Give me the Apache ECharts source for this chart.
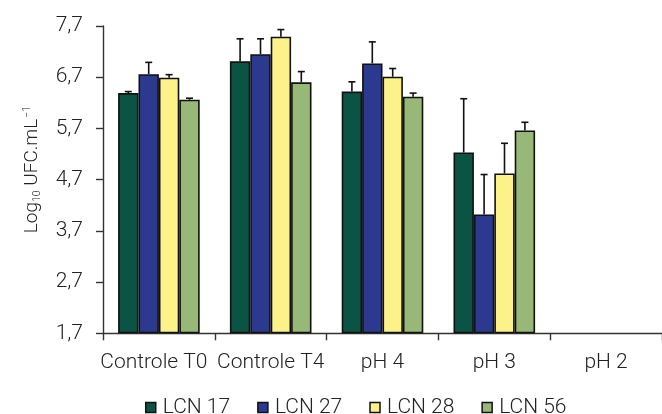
<!DOCTYPE html>
<html>
<head>
<meta charset="utf-8">
<script src="https://cdn.jsdelivr.net/npm/echarts@6/dist/echarts.min.js"></script>
<style>
  html, body { margin: 0; padding: 0; background: #fff; }
  #chart { width: 662px; height: 414px; }
</style>
</head>
<body>
<div id="chart"></div>
<script>
// ---- data ----
const categories = ['Controle T0', 'Controle T4', 'pH 4', 'pH 3', 'pH 2'];
const seriesNames = ['LCN 17', 'LCN 27', 'LCN 28', 'LCN 56'];
const lcn17 = [6.39, 7.01, 6.42, 5.23, null];
const lcn27 = [6.76, 7.15, 6.97, 4.02, null];
const lcn28 = [6.69, 7.49, 6.71, 4.82, null];
const lcn56 = [6.26, 6.60, 6.32, 5.66, null];
const err17 = [0.03, 0.44, 0.19, 1.05, null];
const err27 = [0.23, 0.30, 0.42, 0.78, null];
const err28 = [0.06, 0.14, 0.16, 0.59, null];
const err56 = [0.03, 0.21, 0.07, 0.16, null];
const tickLabels = ['1,7', '2,7', '3,7', '4,7', '5,7', '6,7', '7,7'];
const axisBase = 1.7;

const colors = ['#0b5444', '#2b3a8f', '#fdf28a', '#97b877'];
const values = [lcn17, lcn27, lcn28, lcn56];
const errors = [err17, err27, err28, err56];

const FONT = 'Roboto';
const FW = 300;
const FS = 21;
const BAR_W = 20.4;

const chart = echarts.init(document.getElementById('chart'), null, { renderer: 'canvas' });

const series = [];
values.forEach((vals, i) => {
  series.push({
    name: seriesNames[i],
    type: 'bar',
    barWidth: BAR_W,
    barGap: '0%',
    data: vals.map(v => v == null ? null : v - axisBase),
    itemStyle: { color: colors[i], borderColor: '#111', borderWidth: 1.6 },
    silent: true,
    z: 2
  });
});
values.forEach((vals, i) => {
  series.push({
    type: 'custom',
    silent: true,
    z: 5,
    data: vals.map((v, k) => v == null ? null : [k, v - axisBase, errors[i][k]]),
    renderItem: function (params, api) {
      const k = api.value(0), v = api.value(1), e = api.value(2);
      const p0 = api.coord([k, v]);
      const p1 = api.coord([k, v + e]);
      const x = p0[0] + (i - 1.5) * BAR_W;
      const cap = 3.5;
      return {
        type: 'group',
        children: [
          { type: 'line', shape: { x1: x, y1: p0[1], x2: x, y2: p1[1] }, style: { stroke: '#111', lineWidth: 1.6 } },
          { type: 'line', shape: { x1: x - cap, y1: p1[1], x2: x + cap, y2: p1[1] }, style: { stroke: '#111', lineWidth: 1.6 } }
        ]
      };
    }
  });
});

const labelStyle = { fontFamily: FONT, fontSize: FS, fontWeight: FW, color: '#222' };

const option = {
  animation: false,
  color: colors,
  textStyle: { fontFamily: FONT },
  grid: { left: 103, right: -1, top: 26, bottom: 80.7, containLabel: false },
  legend: {
    data: seriesNames,
    left: 140,
    top: 392,
    icon: 'rect',
    itemWidth: 10,
    itemHeight: 10,
    itemGap: 27,
    itemStyle: { borderColor: '#111', borderWidth: 1.5 },
    textStyle: Object.assign({ padding: [0, 0, 0, 2] }, labelStyle)
  },
  xAxis: {
    type: 'category',
    data: categories,
    boundaryGap: true,
    axisLine: { lineStyle: { color: '#333', width: 1.4 } },
    axisTick: { show: true, length: 7, lineStyle: { color: '#333', width: 1.4 } },
    axisLabel: Object.assign({
      margin: 19, interval: 0,
      formatter: function (v, idx) { return idx === 0 ? '{l|' + v + '}' : '{n|' + v + '}'; },
      rich: {
        l: Object.assign({ padding: [0, 10, 0, 0] }, labelStyle),
        n: Object.assign({}, labelStyle)
      }
    }, labelStyle),
    splitLine: { show: false }
  },
  yAxis: {
    type: 'value',
    min: 0,
    max: 6,
    interval: 1,
    name: '{a|Log}{b|10}{a| UFC.mL}{c|−1}',
    nameLocation: 'middle',
    nameGap: 60,
    nameTextStyle: {
      fontFamily: FONT, color: '#222', padding: [0, 0, 0, 20],
      rich: {
        a: { fontFamily: FONT, fontSize: 19, fontWeight: FW, color: '#222' },
        b: { fontFamily: FONT, fontSize: 10.5, fontWeight: FW, color: '#222', verticalAlign: 'bottom', padding: [10, 0, 0, 0] },
        c: { fontFamily: FONT, fontSize: 10.5, fontWeight: FW, color: '#222', verticalAlign: 'top', padding: [0, 0, 10, 1] }
      }
    },
    axisLine: { show: true, lineStyle: { color: '#333', width: 1.4 } },
    axisTick: { show: true, length: 7, lineStyle: { color: '#333', width: 1.4 } },
    axisLabel: Object.assign({
      margin: 20,
      formatter: function (v) { return tickLabels[Math.round(v)]; }
    }, labelStyle),
    splitLine: { show: false }
  },
  series: series
};

chart.setOption(option);
</script>
</body>
</html>
